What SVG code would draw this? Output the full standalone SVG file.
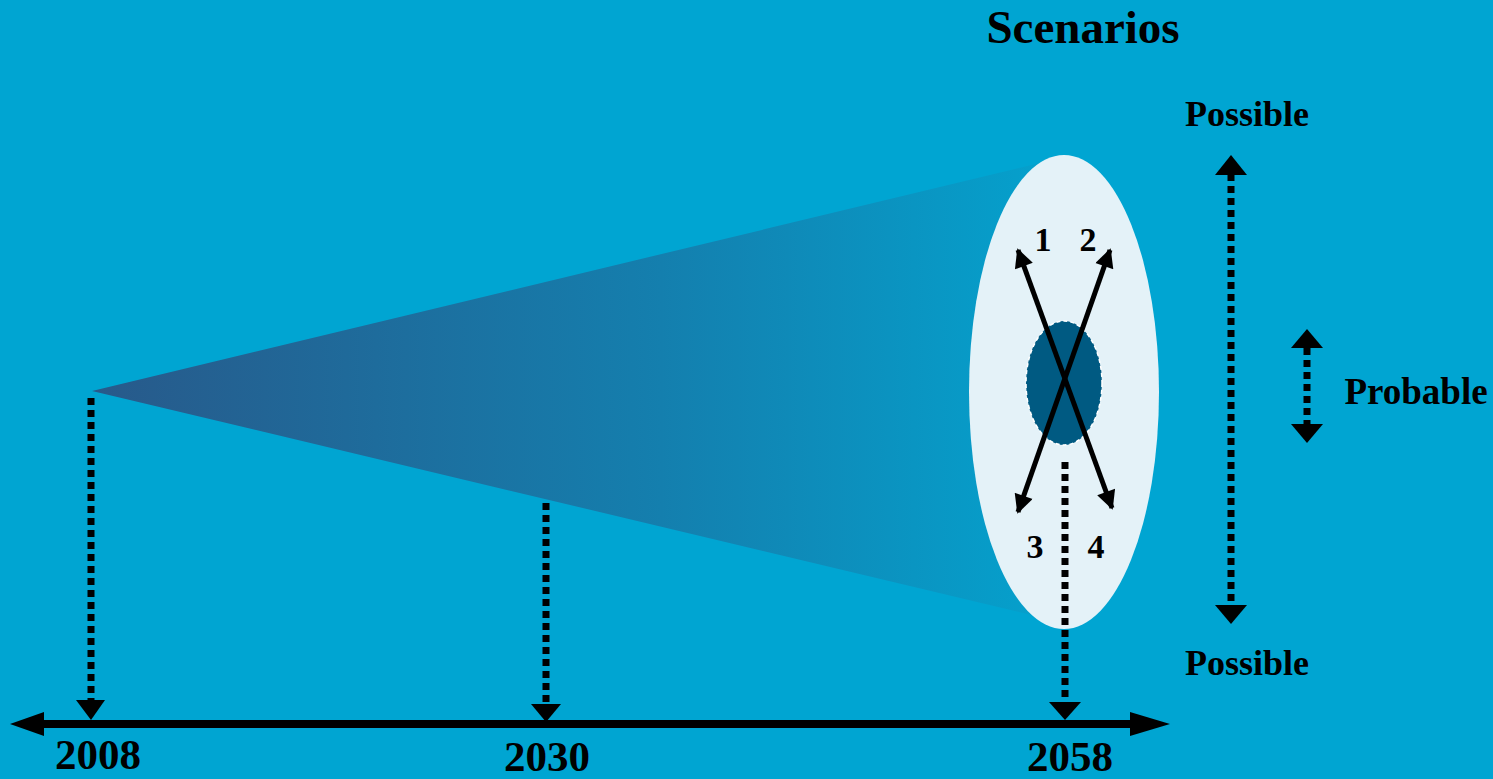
<svg xmlns="http://www.w3.org/2000/svg" width="1493" height="779" viewBox="0 0 1493 779">
<defs>
<linearGradient id="cone" x1="92" y1="0" x2="1040" y2="0" gradientUnits="userSpaceOnUse">
<stop offset="0" stop-color="#28598a"/>
<stop offset="0.6" stop-color="#147fae"/>
<stop offset="1" stop-color="#05a0cc"/>
</linearGradient>
<marker id="ah" viewBox="0 0 10 10" refX="9" refY="5" markerWidth="4.8" markerHeight="3.8" orient="auto-start-reverse" markerUnits="strokeWidth">
<path d="M0,0 L10,5 L0,10 Z" fill="#000"/>
</marker>
</defs>
<style>
.t{font-family:"Liberation Serif","Times New Roman",serif;font-weight:bold;fill:#000}
.dot{stroke:#000;stroke-width:7;stroke-dasharray:7 5;fill:none}
.tri{fill:#000}
</style>
<rect width="1493" height="779" fill="#00a5d2"/>
<g id="cone-shape">
<polygon points="92,391 1040,163 1040,617" fill="url(#cone)"/>
</g>
<g id="scenario-ellipse">
<ellipse cx="1064" cy="392" rx="95" ry="237" fill="#e4f2f8"/>
<ellipse cx="1064" cy="383" rx="38" ry="62" fill="#005a82" stroke="#ffffff" stroke-width="1.5" stroke-dasharray="4 3"/>
</g>
<g id="connectors">
<line x1="1018" y1="250" x2="1112" y2="508" stroke="#000" stroke-width="5" marker-start="url(#ah)" marker-end="url(#ah)"/>
<line x1="1110" y1="250" x2="1018" y2="512" stroke="#000" stroke-width="5" marker-start="url(#ah)" marker-end="url(#ah)"/>
<line class="dot" x1="91" y1="398" x2="91" y2="702"/>
<polygon class="tri" points="76,700 105,700 91,720"/>
<line class="dot" x1="546" y1="503" x2="546" y2="706"/>
<polygon class="tri" points="531,704 561,704 546,722"/>
<line class="dot" x1="1065" y1="462" x2="1065" y2="704"/>
<polygon class="tri" points="1049,702 1081,702 1065,720"/>
<line x1="38" y1="724" x2="1138" y2="724" stroke="#000" stroke-width="8"/>
<polygon class="tri" points="10,724 44,712 44,736"/>
<polygon class="tri" points="1170,724 1130,712 1130,736"/>
<line class="dot" x1="1231" y1="174" x2="1231" y2="608"/>
<polygon class="tri" points="1231,155 1215,175 1247,175"/>
<polygon class="tri" points="1231,624 1215,605 1247,605"/>
<line class="dot" x1="1307" y1="348" x2="1307" y2="426"/>
<polygon class="tri" points="1307,329 1291,348 1323,348"/>
<polygon class="tri" points="1307,443 1291,424 1323,424"/>
</g>
<g id="labels">
<text class="t" x="1083" y="43" font-size="47" text-anchor="middle">Scenarios</text>
<text class="t" x="1247" y="126" font-size="36" text-anchor="middle">Possible</text>
<text class="t" x="1247" y="675" font-size="36" text-anchor="middle">Possible</text>
<text class="t" x="1416" y="404" font-size="37" text-anchor="middle">Probable</text>
<text class="t" x="1043" y="251" font-size="34" text-anchor="middle">1</text>
<text class="t" x="1088" y="251" font-size="34" text-anchor="middle">2</text>
<text class="t" x="1035" y="558" font-size="34" text-anchor="middle">3</text>
<text class="t" x="1096" y="558" font-size="34" text-anchor="middle">4</text>
<text class="t" x="98" y="769" font-size="43" text-anchor="middle">2008</text>
<text class="t" x="547" y="771" font-size="43" text-anchor="middle">2030</text>
<text class="t" x="1070" y="771" font-size="43" text-anchor="middle">2058</text>
</g>
</svg>
